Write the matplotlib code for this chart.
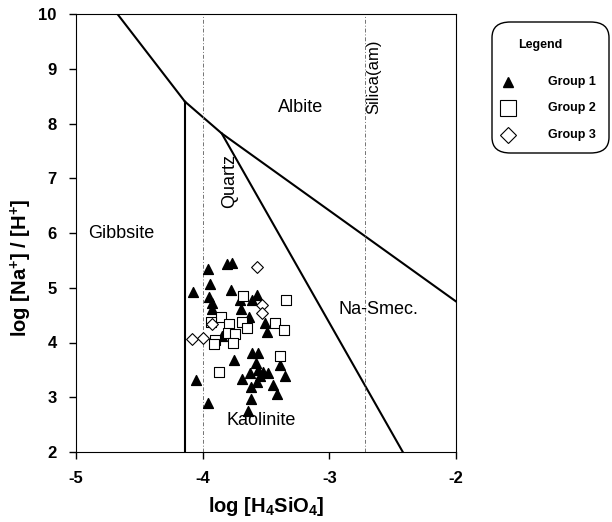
import matplotlib
matplotlib.use("Agg")
import matplotlib.pyplot as plt
from matplotlib.lines import Line2D
from matplotlib.patches import FancyBboxPatch

plt.rcParams['font.family'] = ['Liberation Sans', 'DejaVu Sans']
plt.rcParams['mathtext.fontset'] = 'custom'
plt.rcParams['mathtext.rm'] = 'Liberation Sans:bold'
plt.rcParams['mathtext.default'] = 'regular'
plt.rcParams['axes.unicode_minus'] = False

# phase boundaries (log H4SiO4, log Na/H)
gib_kao_x = [-4.14, -4.14]
gib_kao_y = [2.0, 8.4]
gib_alb_x = [-4.673, -4.14]
gib_alb_y = [10.0, 8.4]
kao_alb_x = [-4.14, -3.85, -2.0]
kao_alb_y = [8.4, 7.82, 4.75]
kao_smec_x = [-3.85, -2.42]
kao_smec_y = [7.82, 2.0]
quartz_x = -4.0
silica_am_x = -2.72

# samples
g1_x = [-3.956, -3.811, -3.771, -4.079, -3.942, -3.948, -3.777, -3.929, -3.929, -3.706,
        -3.700, -3.613, -3.632, -3.574, -3.508, -3.495, -3.850, -3.751, -3.613, -3.566,
        -3.582, -3.561, -3.627, -3.487, -3.548, -3.687, -3.574, -3.619, -3.443, -3.416,
        -3.619, -3.645, -3.390, -3.350, -4.053, -3.956, -3.522]
g1_y = [5.34, 5.43, 5.46, 4.93, 5.06, 4.84, 4.96, 4.72, 4.62, 4.78,
        4.62, 4.78, 4.47, 4.87, 4.35, 4.20, 4.11, 3.68, 3.80, 3.80,
        3.62, 3.50, 3.44, 3.44, 3.38, 3.33, 3.28, 3.18, 3.22, 3.06,
        2.96, 2.74, 3.59, 3.39, 3.32, 2.89, 3.47]
g2_x = [-3.684, -3.858, -3.934, -3.790, -3.692, -3.653, -3.798, -3.745, -3.758, -3.429,
        -3.903, -3.911, -3.345, -3.356, -3.390, -3.869]
g2_y = [4.85, 4.47, 4.38, 4.34, 4.38, 4.26, 4.17, 4.16, 4.00, 4.35,
        4.05, 3.97, 4.78, 4.23, 3.75, 3.47]
g3_x = [-3.571, -3.532, -3.534, -4.087, -3.994, -3.927]
g3_y = [5.37, 4.68, 4.53, 4.06, 4.08, 4.34]

group_labels = ['Group 1', 'Group 2', 'Group 3']

W, H = 612, 522
fig = plt.figure(figsize=(W / 100, H / 100), dpi=100)
ax = fig.add_axes([76 / W, 1 - 452 / H, 380 / W, 438 / H])

ax.plot(gib_kao_x, gib_kao_y, color='black', lw=1.5)
ax.plot(gib_alb_x, gib_alb_y, color='black', lw=1.5)
ax.plot(kao_alb_x, kao_alb_y, color='black', lw=1.5)
ax.plot(kao_smec_x, kao_smec_y, color='black', lw=1.5)
for xv in (quartz_x, silica_am_x):
    ax.plot([xv, xv], [2, 10], color='0.45', lw=0.7, linestyle=(0, (4, 2, 1, 2)))

ax.scatter(g1_x, g1_y, marker='^', s=50, c='black', zorder=3)
ax.scatter(g2_x, g2_y, marker='s', s=50, facecolors='white', edgecolors='black', linewidths=0.8, zorder=3)
ax.scatter(g3_x, g3_y, marker='D', s=36, facecolors='white', edgecolors='black', linewidths=0.8, zorder=3)

ax.text(-4.905, 6.0, 'Gibbsite', fontsize=13, va='center', ha='left')
ax.text(-3.23, 8.3, 'Albite', fontsize=13, va='center', ha='center')
ax.text(-2.61, 4.6, 'Na-Smec.', fontsize=13, va='center', ha='center')
ax.text(-3.54, 2.58, 'Kaolinite', fontsize=13, va='center', ha='center')
ax.text(-3.79, 6.95, 'Quartz', fontsize=13, va='center', ha='center', rotation=90)
ax.text(-2.65, 8.85, 'Silica(am)', fontsize=12, va='center', ha='center', rotation=90)

ax.set_xlim(-5, -2)
ax.set_ylim(2, 10)
ax.set_xticks([-5, -4, -3, -2])
ax.set_yticks(range(2, 11))
ax.tick_params(direction='out', length=5, width=1, labelsize=12)
ax.tick_params(axis='x', pad=9)
ax.tick_params(axis='y', pad=9)
for lab in ax.get_xticklabels() + ax.get_yticklabels():
    lab.set_fontweight('bold')
ax.set_xlabel(r'log [H$_4$SiO$_4$]', fontsize=14.5, fontweight='bold')
ax.xaxis.set_label_coords(0.5, -(495 - 452) / 438)
ax.set_ylabel(r'log [Na$^{+}$] / [H$^{+}$]', fontsize=14.5, fontweight='bold')
ax.yaxis.set_label_coords(-(76 - 34) / 380, 0.42)

# legend box drawn by hand
box = FancyBboxPatch((492 / W, 1 - 153 / H), 117 / W, 131 / H,
                     boxstyle='round,pad=0,rounding_size=0.03',
                     transform=fig.transFigure, facecolor='white',
                     edgecolor='black', linewidth=1.0)
fig.add_artist(box)
fig.text(540 / W, 1 - 45 / H, 'Legend', fontsize=9, fontweight='bold', ha='center', va='center')
legend_styles = [
    dict(marker='^', color='black', markersize=7),
    dict(marker='s', markerfacecolor='white', markeredgecolor='black', markersize=11, markeredgewidth=0.8),
    dict(marker='D', markerfacecolor='white', markeredgecolor='black', markersize=8, markeredgewidth=0.8),
]
for ypix, lab, st in zip([82, 108, 135], group_labels, legend_styles):
    fig.add_artist(Line2D([508 / W], [1 - ypix / H], linestyle='none',
                          transform=fig.transFigure, **st))
    fig.text(548 / W, 1 - ypix / H, lab, fontsize=9, fontweight='bold', ha='left', va='center')

fig.savefig('out.png', dpi=100)
